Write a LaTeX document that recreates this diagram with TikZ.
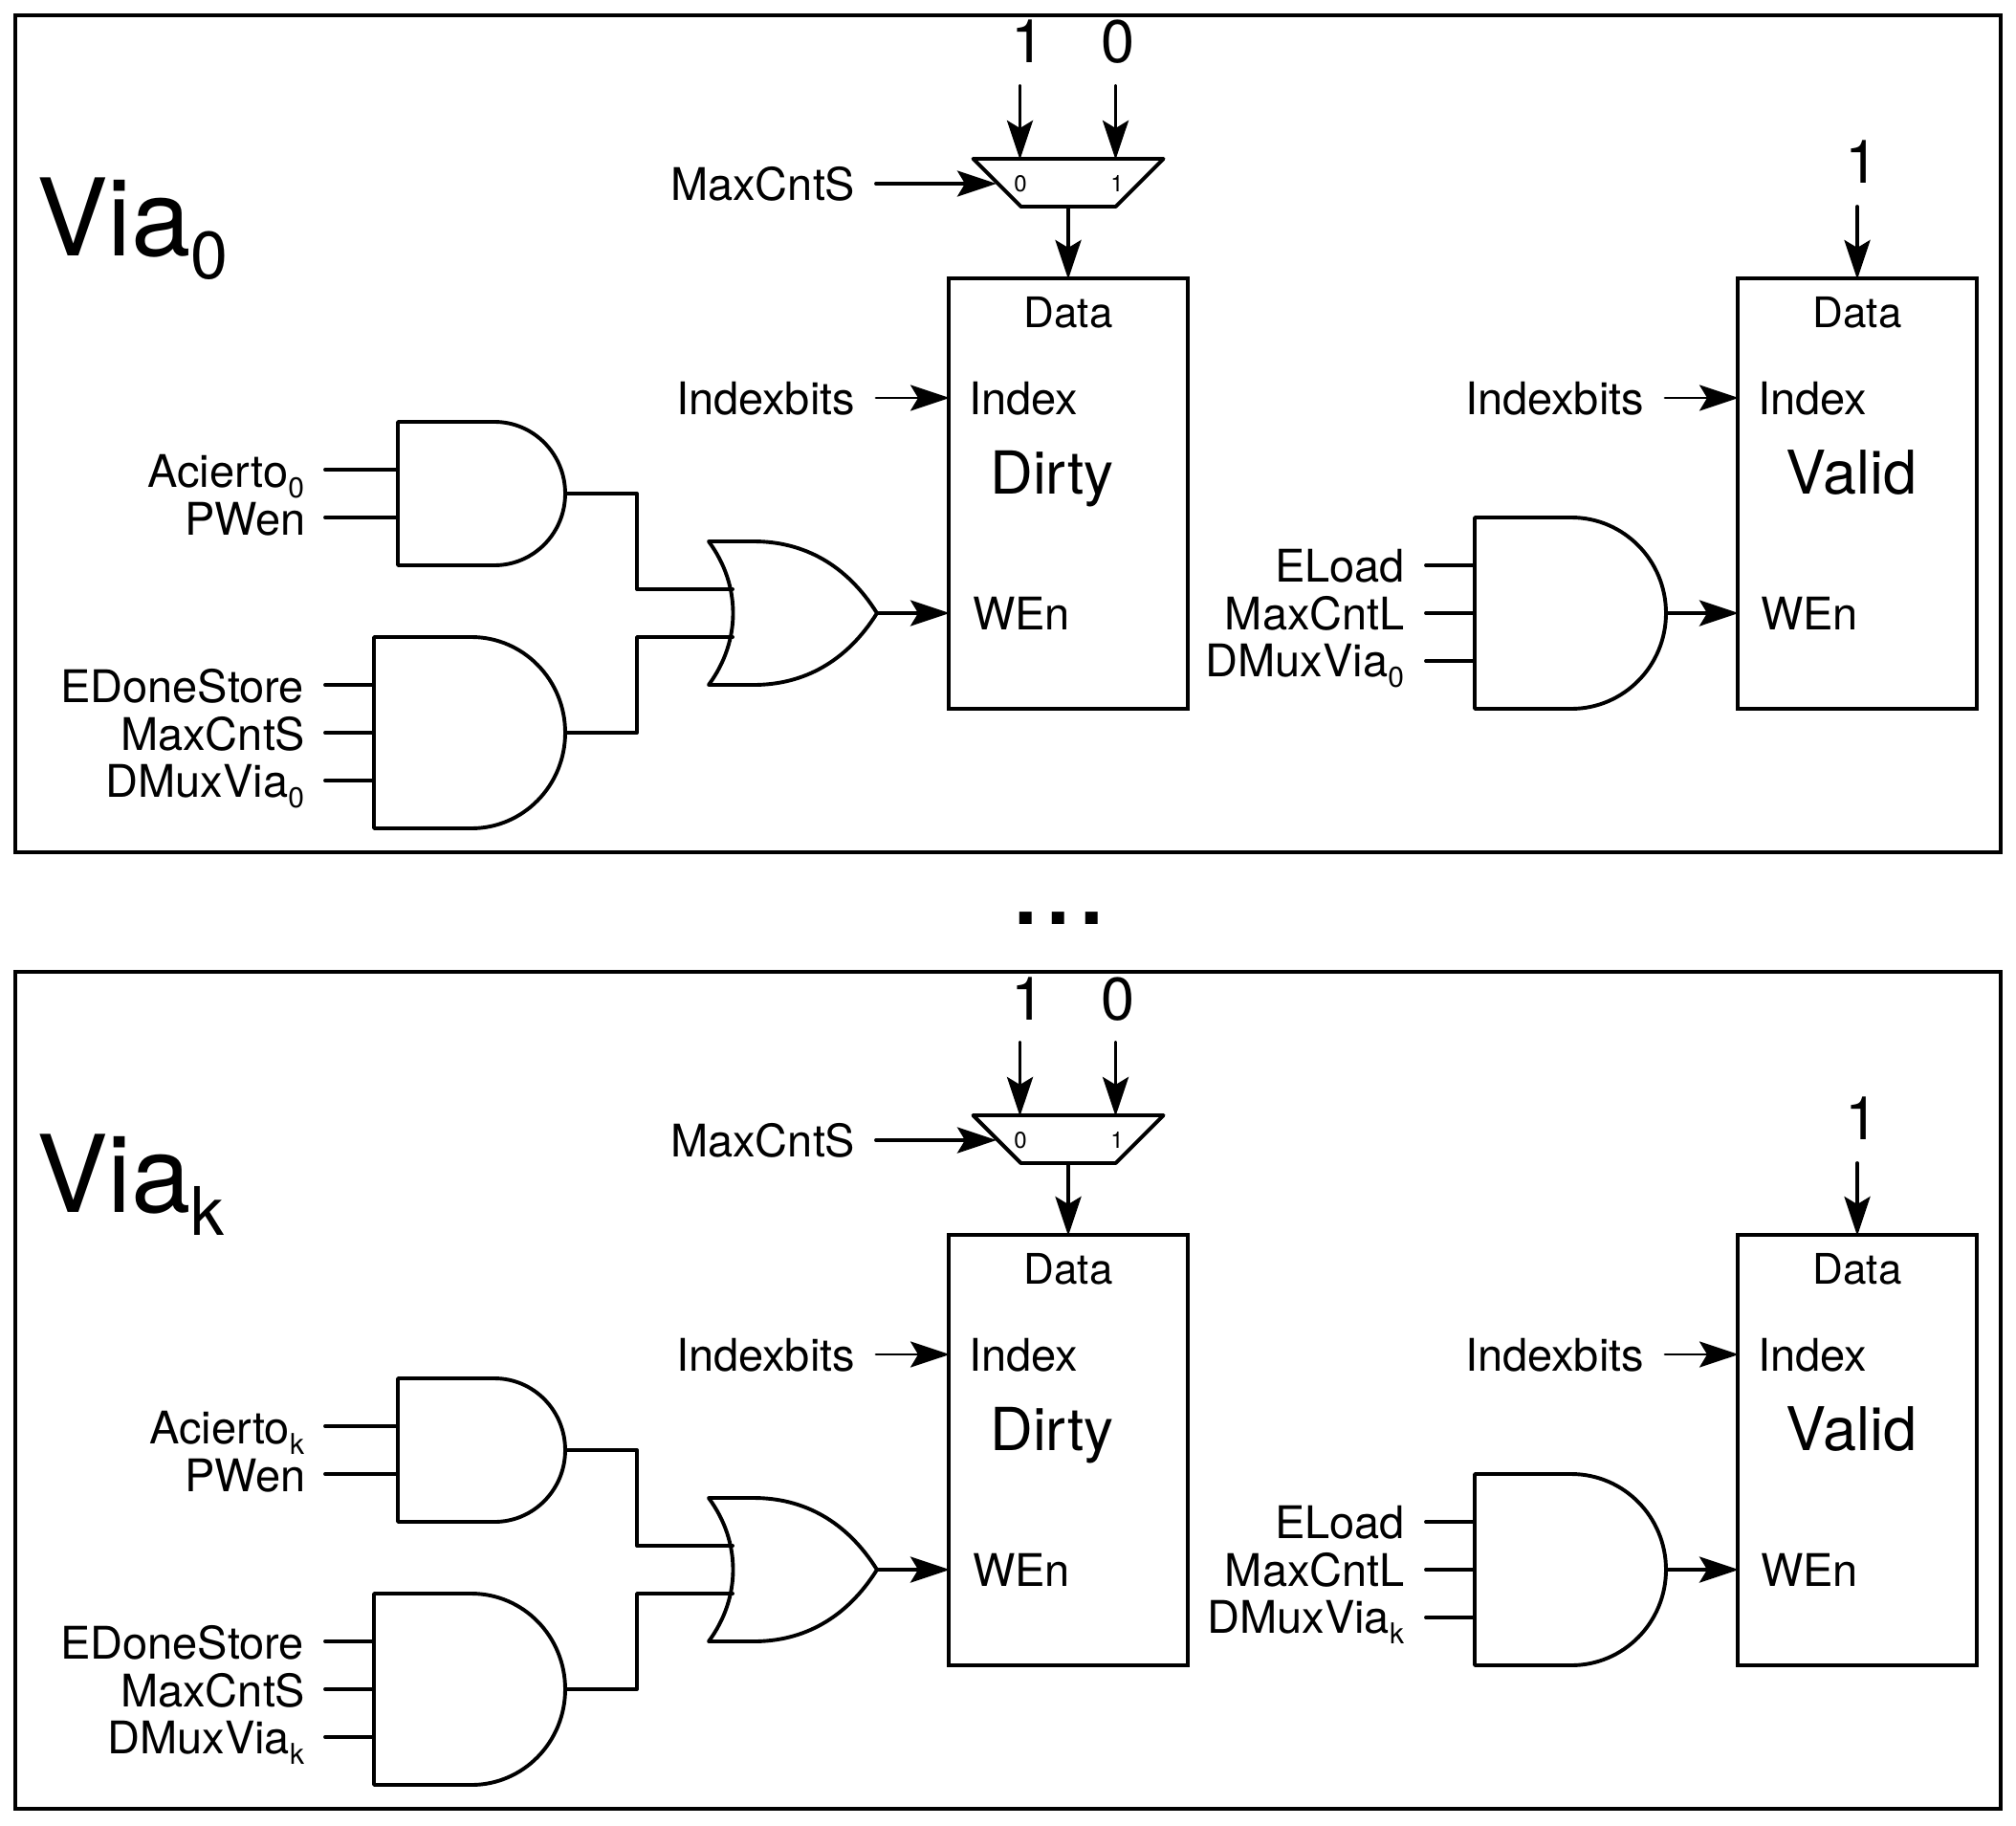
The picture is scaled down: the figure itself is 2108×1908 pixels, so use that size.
\documentclass[tikz,border=0pt]{standalone}
\usepackage{fontspec}
\setmainfont{TeX Gyre Heros}
\usetikzlibrary{arrows.meta,calc}
\newcommand{\fsz}[1]{\fontsize{#1}{#1}\selectfont}
\newcommand{\subtxt}[4]{#1{\fsz{#2}\smash{\raisebox{-#3pt}{#4}}}}
\tikzset{
  wire/.style={line width=3.9pt,line cap=round,line join=round},
  arr/.style={wire,-{Stealth[length=41pt,width=27pt,inset=8pt]},shorten >=-1pt},
  thinarr/.style={arr,line width=2.8pt},
  frame/.style={draw,line width=4.4pt,minimum width=2076pt,minimum height=875pt,anchor=north west,inner sep=0,outer sep=0},
  block/.style={draw,line width=3.9pt,minimum width=250pt,minimum height=450pt,anchor=north west,inner sep=0,outer sep=0},
  ghost/.style={inner sep=0,outer sep=0},
  lab/.style={inner sep=0,outer sep=0,font=\fsz{47}},
  rlab/.style={lab,anchor=base east},
  llab/.style={lab,anchor=base west},
  clab/.style={inner sep=0,outer sep=0,font=\fsz{44},anchor=base},
  biglab/.style={inner sep=0,outer sep=0,anchor=base,font=\fsz{63}},
  muxlab/.style={inner sep=0,outer sep=0,font=\fsz{24}},
}
% \andgate{name}{left}{top}{bottom}{arc start x}{right}
\newcommand{\andgate}[6]{%
  \node[ghost,anchor=north west,minimum width=#6pt-#2pt,minimum height=#4pt-#3pt] (#1) at (#2,#3) {};
  \draw[wire] (#5,#3) -- (#1.north west) -- (#1.south west) -- (#5,#4)
    arc[start angle=-90,end angle=90,x radius=#6pt-#5pt,y radius={(#4pt-#3pt)/2}];
}
% \panel{prefix}{shift}{subscript}
\newcommand{\panel}[3]{%
\begin{scope}[shift={(0,#2)},name prefix=#1-]
  \node[frame] (box) at (16,16) {};
  \node[inner sep=0,outer sep=0,anchor=base west,font=\fsz{112}] (title) at (38,267) {\subtxt{Via}{70}{24}{#3}};
  % mux
  \node[ghost,anchor=north,minimum width=199pt,minimum height=50pt] (mux) at (1117,166) {};
  \draw[wire] (mux.north west) -- (mux.north east) -- ($(mux.south east)+(-50,0)$) -- ($(mux.south west)+(50,0)$) -- cycle;
  \node[muxlab] (m0) at (1067,192) {0};
  \node[muxlab] (m1) at (1168,192) {1};
  \coordinate (sel) at (1041,192);
  \node[biglab] (v1) at (1075,66) {1};
  \node[biglab] (v0) at (1169,66) {0};
  \coordinate (v1s) at (1066.5,90);
  \coordinate (v0s) at (1166.5,90);
  \draw[arr] (v1s) -- (v1s |- mux.north);
  \draw[arr] (v0s) -- (v0s |- mux.north);
  \node[rlab] (mcs) at (894,209) {MaxCntS};
  \coordinate (mcss) at (916,192);
  \draw[arr] (mcss) -- (sel);
  % dirty
  \node[block] (dirty) at (992,291) {};
  \draw[arr] (mux.south) -- (dirty.north);
  \node[clab] (dd) at (1117,342) {Data};
  \node[llab] (di) at (1013,433) {Index};
  \node[inner sep=0,outer sep=0,anchor=base,font=\fsz{62}] (dn) at (1100,516) {Dirty};
  \node[llab] (dw) at (1017,658) {WEn};
  \node[rlab] (ib1) at (894,433) {Indexbits};
  \coordinate (ib1s) at (916,416);
  \draw[thinarr] (ib1s) -- (ib1s -| dirty.west);
  % valid
  \node[block] (valid) at (1817,291) {};
  \node[biglab] (vv) at (1947,191) {1};
  \coordinate (vvs) at (1942,216);
  \draw[arr] (vvs) -- (vvs |- valid.north);
  \node[clab] (vd) at (1942,342) {Data};
  \node[llab] (vi) at (1838,433) {Index};
  \node[inner sep=0,outer sep=0,anchor=base,font=\fsz{63}] (vn) at (1936,516) {Valid};
  \node[llab] (vw) at (1841,658) {WEn};
  \node[rlab] (ib2) at (1719,433) {Indexbits};
  \coordinate (ib2s) at (1741,416);
  \draw[thinarr] (ib2s) -- (ib2s -| valid.west);
  % AND gates
  \andgate{a1}{416}{441}{591}{517}{591}
  \andgate{a2}{391}{666}{866}{493}{591}
  \andgate{a3}{1542}{541}{741}{1643}{1742}
  \foreach \nm/\y/\g/\x in {p1/491/a1/340,p2/541/a1/340,p3/716/a2/340,p4/766/a2/340,p5/816/a2/340,p6/591/a3/1491,p7/641/a3/1491,p8/691/a3/1491}{
    \coordinate (\nm) at (\x,\y);
    \draw[wire] (\nm) -- (\nm -| \g.west);
  }
  \node[rlab] (l1) at (318,509) {\subtxt{Acierto}{30}{11}{#3}};
  \node[rlab] (l2) at (320,559) {PWen};
  \node[rlab] (l3) at (318,734) {EDoneStore};
  \node[rlab] (l4) at (319,784) {MaxCntS};
  \node[rlab] (l5) at (318,833) {\subtxt{DMuxVia}{30}{11}{#3}};
  \node[rlab] (l6) at (1469,608) {ELoad};
  \node[rlab] (l7) at (1469,658) {MaxCntL};
  \node[rlab] (l8) at (1468,707) {\subtxt{DMuxVia}{30}{11}{#3}};
  % OR gate
  \node[ghost,anchor=west,minimum width=176pt,minimum height=150pt] (org) at (741,641) {};
  \draw[wire] (org.north west) -- (788,566)
     .. controls (840,566) and (885,590) .. (org.east)
     .. controls (885,692) and (840,716) .. (788,716)
     -- (org.south west)
     .. controls (775,670) and (775,612) .. cycle;
  % wires
  \coordinate (or1) at (766,616);
  \coordinate (or2) at (766,666);
  \draw[wire] (a1.east) -| (666,616) -- (or1);
  \draw[wire] (a2.east) -| (666,666) -- (or2);
  \draw[arr] (org.east) -- (org.east -| dirty.west);
  \draw[arr] (a3.east) -- (a3.east -| valid.west);
\end{scope}}
\begin{document}
\begin{tikzpicture}[x=1pt,y=-1pt]
  \useasboundingbox (0,0) rectangle (2108,1908);
  \panel{a}{0}{0}
  \panel{b}{1000}{k}
  \node[inner sep=0,outer sep=0,anchor=base,font=\fsz{124}] (dots) at (1107,966) {...};
\end{tikzpicture}
\end{document}
